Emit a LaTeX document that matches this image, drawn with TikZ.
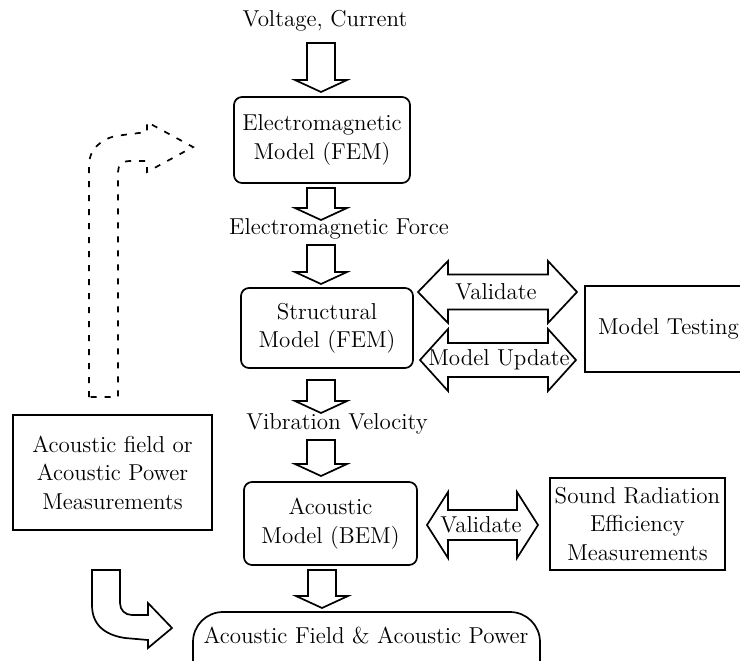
\documentclass[tikz,border=0pt]{standalone}
\newcommand\blkdown[3]{\draw[blk] (#1-14,#2) -- (#1-14,#3-12) -- (#1-26,#3-12) -- (#1,#3) -- (#1+26,#3-12) -- (#1+14,#3-12) -- (#1+14,#2) -- cycle;}
\newcommand\blkdouble[7]{\draw[blk] (#1,#5) -- (#2,#5-#7) -- (#2,#5-#6) -- (#3,#5-#6) -- (#3,#5-#7) -- (#4,#5) -- (#3,#5+#7) -- (#3,#5+#6) -- (#2,#5+#6) -- (#2,#5+#7) -- cycle;}
\begin{document}
\begin{tikzpicture}[x=0.5pt,y=-0.5pt,
  every node/.style={font=\fontsize{11.5}{14.2}\selectfont, inner sep=0pt, align=center},
  box/.style={draw, line width=0.85pt},
  rbox/.style={box, rounded corners=4pt},
  blk/.style={draw, line width=0.85pt, fill=white, line join=miter},
  dblk/.style={draw, line width=0.85pt, dash pattern=on 3pt off 4pt},
]
\clip (0,0) rectangle (740,660);
\fill[white] (0,0) rectangle (740,660);

% main column
\node (vc) at (325,21) {Voltage, Current};
\node[rbox, minimum width=88pt, minimum height=43pt] (em) at (322,140) {Electromagnetic\\Model (FEM)};
\node (emf) at (339,229) {Electromagnetic Force};
\node[rbox, minimum width=86pt, minimum height=40pt] (sm) at (327,328) {Structural\\Model (FEM)};
\node (vv) at (337,424) {Vibration Velocity};
\node[rbox, minimum width=86.5pt, minimum height=41.5pt] (am) at (330.5,523.5) {Acoustic\\Model (BEM)};

% side boxes
\node[box, minimum width=83.5pt, minimum height=43pt] (mt) at (668.5,329) {Model Testing};
\node[box, minimum width=99.5pt, minimum height=57.5pt] (meas) at (112.5,472.5) {Acoustic field or\\Acoustic Power\\Measurements};
\node[box, minimum width=87.5pt, minimum height=46pt] (srm) at (637.5,524) {Sound Radiation\\Efficiency\\Measurements};

% bottom result
\draw[box, rounded corners=15pt] (193,720) rectangle (540,612);
\node (af) at (366,636) {Acoustic Field \& Acoustic Power};

% down block arrows
\blkdown{321}{43}{92}
\blkdown{321}{188}{220}
\blkdown{321}{245}{284}
\blkdown{321}{380}{413}
\blkdown{321}{440}{476}
\blkdown{322}{570}{608}

% double block arrows
\blkdouble{418}{448}{548}{577}{292}{17.5}{31}
\blkdouble{420}{448}{548}{576}{360}{17}{31}
\blkdouble{427}{448}{517}{538}{525}{15}{33}
\node (val1) at (496,292) {Validate};
\node (mu) at (499,360) {Model Update};
\node (val2) at (481,525) {Validate};

% dashed bent arrow
\draw[dblk] (89,397) -- (89,165) .. controls (89,150) and (100,140) .. (115,136) -- (147,132) -- (147,122) -- (193,147) -- (147,172) -- (147,161) -- (130,161) .. controls (122,161) and (118,165) .. (118,172) -- (118,397) -- cycle;

% solid bent arrow
\draw[blk] (92,570) -- (120,570) -- (120,603) .. controls (120,610) and (125,615) .. (132,615) -- (148,615) -- (148,603) -- (172,628) -- (148,648) -- (148,640) -- (125,638) .. controls (105,635) and (92,625) .. (92,605) -- cycle;
\end{tikzpicture}
\end{document}
